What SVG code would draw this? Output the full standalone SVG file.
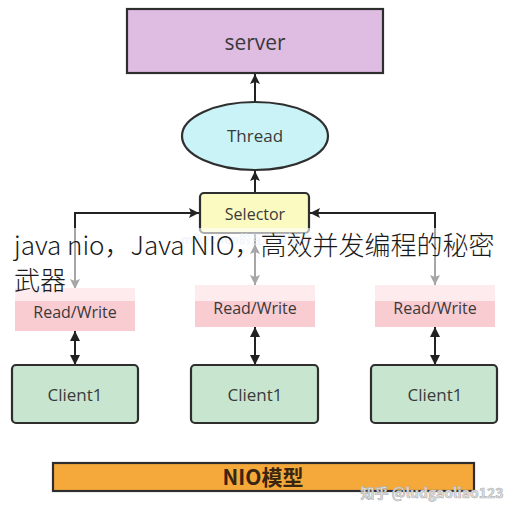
<svg xmlns="http://www.w3.org/2000/svg" width="512" height="510" viewBox="0 0 512 510">
<defs>
<style>
.lbl{font-family:"Open Sans","Noto Sans","Liberation Sans",sans-serif;font-size:17px;fill:#3a3a3a;text-anchor:middle}
.node{stroke:#2e2e2e;stroke-width:2.2}
.ln{stroke:#222;stroke-width:2;fill:none}
.cap{font-family:"Noto Sans CJK SC","Noto Sans",sans-serif;font-weight:300;font-size:26px;fill:#1a1a1a}
</style>
<marker id="ah2" viewBox="0 0 10 10" refX="10" refY="5" markerWidth="14" markerHeight="10" orient="auto" markerUnits="userSpaceOnUse">
<path d="M0,0 L10,5 L0,10 L2,5 Z" fill="#222"/>
</marker>
<marker id="dh" viewBox="0 0 10 10" refX="10" refY="5" markerWidth="16" markerHeight="10" orient="auto" markerUnits="userSpaceOnUse">
<path d="M0,0 L10,5 L0,10 Z" fill="#222"/>
</marker>
</defs>
<rect width="512" height="510" fill="#ffffff"/>

<g id="connectors">
<line class="ln" x1="255" y1="102" x2="255" y2="74" marker-end="url(#ah2)"/>
<line class="ln" x1="255" y1="193" x2="255" y2="171" marker-end="url(#ah2)"/>
<polyline class="ln" points="75,300 75,213 199,213" marker-end="url(#ah2)"/>
<polyline class="ln" points="435,300 435,213 310,213" marker-end="url(#ah2)"/>
<line class="ln" x1="75" y1="280" x2="75" y2="289" marker-end="url(#ah2)"/>
<line class="ln" x1="435" y1="275" x2="435" y2="285" marker-end="url(#ah2)"/>
<line class="ln" x1="255" y1="262" x2="255" y2="285" marker-end="url(#ah2)"/>
<line class="ln" x1="255" y1="262" x2="255" y2="244" marker-end="url(#ah2)"/>
<line class="ln" x1="255" y1="232" x2="255" y2="262"/>
<line class="ln" x1="75" y1="348" x2="75" y2="331" marker-end="url(#dh)"/>
<line class="ln" x1="75" y1="348" x2="75" y2="365" marker-end="url(#dh)"/>
<line class="ln" x1="255" y1="346" x2="255" y2="327" marker-end="url(#dh)"/>
<line class="ln" x1="255" y1="346" x2="255" y2="365" marker-end="url(#dh)"/>
<line class="ln" x1="435" y1="346" x2="435" y2="327" marker-end="url(#dh)"/>
<line class="ln" x1="435" y1="346" x2="435" y2="365" marker-end="url(#dh)"/>
</g>

<g id="server">
<rect class="node" x="127" y="9" width="256" height="64" fill="#dfbde3"/>
<text class="lbl" x="255" y="50" style="font-size:21px">server</text>
</g>
<g id="thread">
<ellipse class="node" cx="255" cy="136" rx="73" ry="34" fill="#c9f3f7"/>
<text class="lbl" x="255" y="142">Thread</text>
</g>
<g id="selector">
<rect class="node" x="200" y="193" width="109" height="40" rx="4" fill="#fbfac0"/>
<text class="lbl" x="255" y="220" style="font-size:16px">Selector</text>
</g>

<g id="rw1">
<rect x="15" y="288" width="120" height="43" fill="#f9ccd2"/>
<text class="lbl" x="75" y="318" style="font-size:16px">Read/Write</text>
</g>
<g id="rw2">
<rect x="195" y="285" width="120" height="42" fill="#f9ccd2"/>
<text class="lbl" x="255" y="314" style="font-size:16px">Read/Write</text>
</g>
<g id="rw3">
<rect x="375" y="285" width="120" height="42" fill="#f9ccd2"/>
<text class="lbl" x="435" y="314" style="font-size:16px">Read/Write</text>
</g>

<g id="client1">
<rect class="node" x="12" y="365" width="126" height="58" rx="4" fill="#c8e6cf"/>
<text class="lbl" x="75" y="401">Client1</text>
</g>
<g id="client2">
<rect class="node" x="191" y="365" width="127" height="58" rx="4" fill="#c8e6cf"/>
<text class="lbl" x="255" y="401">Client1</text>
</g>
<g id="client3">
<rect class="node" x="371" y="365" width="126" height="58" rx="4" fill="#c8e6cf"/>
<text class="lbl" x="435" y="401">Client1</text>
</g>

<g id="nio">
<rect class="node" x="53" y="463" width="421" height="28" fill="#f6a93b"/>
<text x="263" y="485" text-anchor="middle" style="font-family:'Noto Sans CJK SC','Noto Sans',sans-serif;font-weight:bold;font-size:21px;fill:#3a2510">NIO模型</text>
</g>

<text x="246" y="244" text-anchor="middle" style="font-family:'Noto Sans CJK SC',sans-serif;font-weight:bold;font-size:12px;fill:#c6d8ee;opacity:0.6">mikechen的互联网架构</text>
<text x="432" y="498" text-anchor="middle" style="font-family:'Noto Sans CJK SC',sans-serif;font-weight:bold;font-size:14px;fill:#e0e0e0;stroke:#b0b0b0;stroke-width:0.6">知乎 @ludgaoliao123</text>

<rect x="0" y="228" width="512" height="73" fill="#ffffff" opacity="0.6"/>
<text class="cap" x="14" y="255">java nio，Java NIO，高效并发编程的秘密</text>
<text class="cap" x="14" y="290">武器</text>
</svg>
